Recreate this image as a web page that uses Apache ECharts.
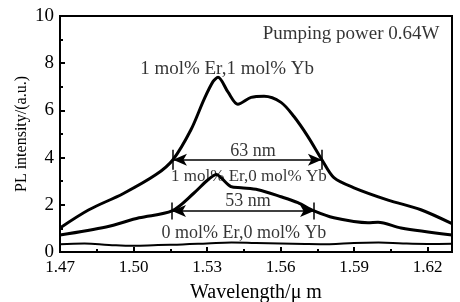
<!DOCTYPE html>
<html>
<head>
<meta charset="utf-8">
<script src="https://cdn.jsdelivr.net/npm/echarts@6/dist/echarts.min.js"></script>
<style>
  html, body { margin: 0; padding: 0; background: #fff; }
  #main { width: 460px; height: 302px; }
</style>
</head>
<body>
<div id="main"></div>
<script>
// 1 mol% Er, 1 mol% Yb
var wlErYb11 = [1.47, 1.4818, 1.4957, 1.5092, 1.5161, 1.5235, 1.5288, 1.5325, 1.5345, 1.5386, 1.5426, 1.548, 1.5533, 1.5602, 1.5655, 1.5712, 1.5769, 1.5818, 1.590, 1.6039, 1.6173, 1.63];
var valErYb11 = [1.02, 1.79, 2.47, 3.28, 3.91, 5.19, 6.47, 7.23, 7.4, 6.77, 6.26, 6.55, 6.6, 6.34, 5.74, 4.89, 3.91, 3.15, 2.72, 2.2, 1.79, 1.2];
// 1 mol% Er, 0 mol% Yb
var wlErYb10 = [1.47, 1.4888, 1.5023, 1.5157, 1.5247, 1.5304, 1.5340, 1.5357, 1.5398, 1.5439, 1.5508, 1.5602, 1.5671, 1.5737, 1.5818, 1.5957, 1.5998, 1.6092, 1.63];
var valErYb10 = [0.72, 1.06, 1.45, 1.74, 2.5, 3.06, 3.28, 3.15, 2.77, 2.72, 2.64, 2.34, 2.09, 1.74, 1.45, 1.24, 1.26, 1.02, 0.72];
// 0 mol% Er, 0 mol% Yb
var wlErYb00 = [1.47, 1.48, 1.49, 1.50, 1.51, 1.52, 1.53, 1.54, 1.55, 1.56, 1.57, 1.58, 1.59, 1.60, 1.61, 1.62, 1.63];
var valErYb00 = [0.33, 0.36, 0.30, 0.26, 0.30, 0.32, 0.36, 0.40, 0.38, 0.36, 0.34, 0.33, 0.38, 0.40, 0.36, 0.34, 0.35];

// annotation texts
var noteX = [1.5888, 1.5382, 1.5488, 1.5471, 1.5467, 1.5451];
var noteY = [9.23, 7.74, 4.26, 3.19, 2.13, 0.81];
var noteText = ['Pumping power 0.64W', '1 mol% Er,1 mol% Yb', '63 nm', '1 mol% Er,0 mol% Yb', '53 nm', '0 mol% Er,0 mol% Yb'];
var noteSize = [19, 19, 18, 17, 18, 18];

// FWHM arrows: [start, end, level]
var fwhm63 = [1.5161, 1.5769, 3.91];
var fwhm53 = [1.5157, 1.5737, 1.74];

function pairs(xs, ys) {
    var out = [];
    for (var i = 0; i < xs.length; i++) {
        out.push([xs[i], ys[i]]);
    }
    return out;
}

function arrowLines(f, half) {
    return [
        [{coord: [f[0], f[2]], symbol: 'arrow'}, {coord: [f[1], f[2]], symbol: 'arrow'}],
        [{coord: [f[0], f[2] - half], symbol: 'none'}, {coord: [f[0], f[2] + half], symbol: 'none'}],
        [{coord: [f[1], f[2] - half], symbol: 'none'}, {coord: [f[1], f[2] + half], symbol: 'none'}]
    ];
}

var font = '"Liberation Serif", "DejaVu Serif", serif';

var notes = [];
for (var i = 0; i < noteText.length; i++) {
    notes.push({
        value: [noteX[i], noteY[i]],
        name: noteText[i],
        label: {fontSize: noteSize[i]}
    });
}

var myChart = echarts.init(document.getElementById('main'));
var option = {
    animation: false,
    backgroundColor: '#fff',
    grid: {
        left: 60, top: 16, right: 8, bottom: 50,
        outerBoundsMode: 'none',
        containLabel: false,
        show: true, borderColor: '#000', borderWidth: 2
    },
    xAxis: {
        type: 'value',
        min: 1.47, max: 1.63, interval: 0.03,
        name: 'Wavelength/\u03bc m',
        nameLocation: 'middle',
        nameGap: 31,
        nameTextStyle: {fontFamily: font, fontSize: 20, color: '#000'},
        axisLine: {show: true, lineStyle: {color: '#000', width: 2}},
        axisTick: {inside: true, length: 5, lineStyle: {color: '#000', width: 2}},
        minorTick: {show: true, splitNumber: 2, length: 3, lineStyle: {color: '#000', width: 2}},
        splitLine: {show: false},
        axisLabel: {
            fontFamily: font, fontSize: 17, color: '#000', margin: 7,
            showMaxLabel: false,
            formatter: function(v) { return v.toFixed(2); }
        }
    },
    yAxis: {
        type: 'value',
        min: 0, max: 10, interval: 2,
        name: 'PL intensity/(a.u.)',
        nameLocation: 'middle',
        nameGap: 30,
        nameMoveOverlap: false,
        nameTextStyle: {fontFamily: font, fontSize: 16, color: '#000'},
        axisLine: {show: true, lineStyle: {color: '#000', width: 2}},
        axisTick: {inside: true, length: 5, lineStyle: {color: '#000', width: 2}},
        minorTick: {show: true, splitNumber: 2, length: 3, lineStyle: {color: '#000', width: 2}},
        splitLine: {show: false},
        axisLabel: {fontFamily: font, fontSize: 19, color: '#000', margin: 6}
    },
    series: [{
        type: 'line',
        data: pairs(wlErYb11, valErYb11),
        smooth: 0.3,
        showSymbol: false,
        lineStyle: {color: '#000', width: 3},
        markLine: {
            silent: true,
            symbolSize: [9, 14],
            label: {show: false},
            lineStyle: {color: '#000', width: 1.5, type: 'solid'},
            data: arrowLines(fwhm63, 0.42)
        }
    }, {
        type: 'line',
        data: pairs(wlErYb10, valErYb10),
        smooth: 0.3,
        showSymbol: false,
        lineStyle: {color: '#000', width: 3},
        markLine: {
            silent: true,
            symbolSize: [9, 14],
            label: {show: false},
            lineStyle: {color: '#000', width: 1.5, type: 'solid'},
            data: arrowLines(fwhm53, 0.36)
        }
    }, {
        type: 'line',
        data: pairs(wlErYb00, valErYb00),
        smooth: 0.4,
        showSymbol: false,
        lineStyle: {color: '#000', width: 2}
    }, {
        type: 'scatter',
        data: notes,
        symbolSize: 0,
        silent: true,
        label: {
            show: true,
            position: 'inside',
            formatter: '{b}',
            fontFamily: font,
            fontSize: 17,
            color: '#000'
        }
    }]
};
myChart.setOption(option);
</script>
</body>
</html>
